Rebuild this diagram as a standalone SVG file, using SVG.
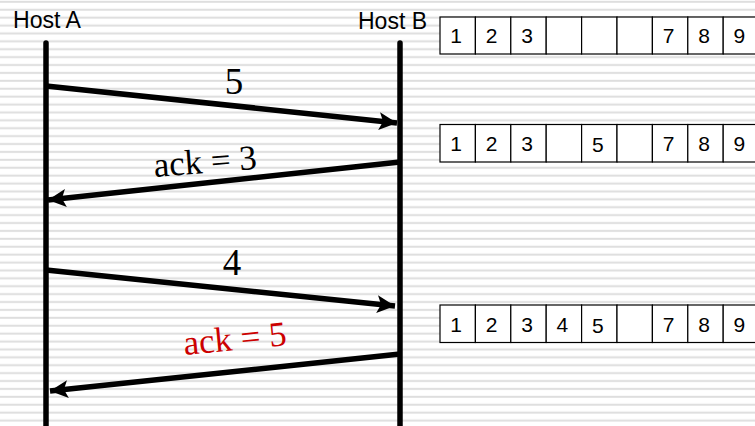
<svg xmlns="http://www.w3.org/2000/svg" width="755" height="426" viewBox="0 0 755 426">
  <defs>
    <!-- horizontal ruled background -->
    <pattern id="stripes" patternUnits="userSpaceOnUse" width="8" height="7.9">
      <rect x="0" y="0.8" width="8" height="2" fill="#dedede"/>
    </pattern>
    <marker id="head" markerUnits="userSpaceOnUse" markerWidth="20" markerHeight="20" refX="18" refY="9" orient="auto">
      <path d="M0,0 L18,9 L0,18 L4,9 Z" fill="#000"/>
    </marker>
  </defs>
  <style>
    .host { font-family: "Liberation Sans", Arial, sans-serif; font-size: 23px; fill: #000; }
    .life { stroke: #000; stroke-width: 5.5; stroke-linecap: round; fill: none; }
    .msg { stroke: #000; stroke-width: 5.5; fill: none; marker-end: url(#head); }
    .lbl { font-family: "Liberation Serif", "Times New Roman", serif; font-size: 35px; fill: #000; text-anchor: middle; }
    .big { font-size: 37px; }
    .red { fill: #cc0000; }
    .cell { fill: #fff; stroke: #000; stroke-width: 1.2; }
    .num { font-family: "Liberation Sans", Arial, sans-serif; font-size: 21px; fill: #000; text-anchor: middle; }
  </style>

  <rect width="755" height="426" fill="#fff"/>
  <rect width="755" height="426" fill="url(#stripes)"/>

  <!-- hosts and their timelines -->
  <g id="hostA">
    <text class="host" x="13" y="28" textLength="68" lengthAdjust="spacingAndGlyphs">Host A</text>
    <line class="life" x1="46" y1="43" x2="46" y2="432"/>
  </g>
  <g id="hostB">
    <text class="host" x="358" y="28.5" textLength="69" lengthAdjust="spacingAndGlyphs">Host B</text>
    <line class="life" x1="400" y1="43" x2="400" y2="432"/>
  </g>

  <!-- messages -->
  <g id="connectors">
    <line class="msg" x1="46" y1="86" x2="397" y2="123"/>
    <line class="msg" x1="400" y1="162" x2="48" y2="200"/>
    <line class="msg" x1="46" y1="270" x2="395" y2="306"/>
    <line class="msg" x1="400" y1="354" x2="50" y2="391"/>
  </g>

  <g id="labels">
    <text class="lbl big" x="234" y="94">5</text>
    <text class="lbl" x="206" y="173" transform="rotate(-4.5 206 173)">ack = 3</text>
    <text class="lbl big" x="232" y="275">4</text>
    <text class="lbl red" x="236" y="350" transform="rotate(-5.5 236 350)">ack = 5</text>
  </g>

  <!-- receiver buffer, first state -->
  <g id="buffer1">
    <rect class="cell" x="440" y="17" width="35.4" height="37"/>
    <rect class="cell" x="475.4" y="17" width="35.4" height="37"/>
    <rect class="cell" x="510.8" y="17" width="35.4" height="37"/>
    <rect class="cell" x="546.2" y="17" width="35.4" height="37"/>
    <rect class="cell" x="581.6" y="17" width="35.4" height="37"/>
    <rect class="cell" x="617" y="17" width="35.4" height="37"/>
    <rect class="cell" x="652.4" y="17" width="35.4" height="37"/>
    <rect class="cell" x="687.8" y="17" width="35.4" height="37"/>
    <rect class="cell" x="723.2" y="17" width="35.4" height="37"/>
    <text class="num" x="456.2" y="42.5">1</text>
    <text class="num" x="491.6" y="42.5">2</text>
    <text class="num" x="527" y="42.5">3</text>
    <text class="num" x="668.6" y="42.5">7</text>
    <text class="num" x="704" y="42.5">8</text>
    <text class="num" x="739.4" y="42.5">9</text>
  </g>

  <!-- receiver buffer, after segment 5 -->
  <g id="buffer2">
    <rect class="cell" x="440" y="124.5" width="35.4" height="37.5"/>
    <rect class="cell" x="475.4" y="124.5" width="35.4" height="37.5"/>
    <rect class="cell" x="510.8" y="124.5" width="35.4" height="37.5"/>
    <rect class="cell" x="546.2" y="124.5" width="35.4" height="37.5"/>
    <rect class="cell" x="581.6" y="124.5" width="35.4" height="37.5"/>
    <rect class="cell" x="617" y="124.5" width="35.4" height="37.5"/>
    <rect class="cell" x="652.4" y="124.5" width="35.4" height="37.5"/>
    <rect class="cell" x="687.8" y="124.5" width="35.4" height="37.5"/>
    <rect class="cell" x="723.2" y="124.5" width="35.4" height="37.5"/>
    <text class="num" x="456.2" y="150.5">1</text>
    <text class="num" x="491.6" y="150.5">2</text>
    <text class="num" x="527" y="150.5">3</text>
    <text class="num" x="597.8" y="151.5">5</text>
    <text class="num" x="668.6" y="150.5">7</text>
    <text class="num" x="704" y="150.5">8</text>
    <text class="num" x="739.4" y="150.5">9</text>
  </g>

  <!-- receiver buffer, after segment 4 -->
  <g id="buffer3">
    <rect class="cell" x="440" y="305" width="35.4" height="37.5"/>
    <rect class="cell" x="475.4" y="305" width="35.4" height="37.5"/>
    <rect class="cell" x="510.8" y="305" width="35.4" height="37.5"/>
    <rect class="cell" x="546.2" y="305" width="35.4" height="37.5"/>
    <rect class="cell" x="581.6" y="305" width="35.4" height="37.5"/>
    <rect class="cell" x="617" y="305" width="35.4" height="37.5"/>
    <rect class="cell" x="652.4" y="305" width="35.4" height="37.5"/>
    <rect class="cell" x="687.8" y="305" width="35.4" height="37.5"/>
    <rect class="cell" x="723.2" y="305" width="35.4" height="37.5"/>
    <text class="num" x="456.2" y="331.5">1</text>
    <text class="num" x="491.6" y="331.5">2</text>
    <text class="num" x="527" y="331.5">3</text>
    <text class="num" x="562.4" y="331.5">4</text>
    <text class="num" x="597.8" y="332.5">5</text>
    <text class="num" x="668.6" y="331.5">7</text>
    <text class="num" x="704" y="331.5">8</text>
    <text class="num" x="739.4" y="331.5">9</text>
  </g>
</svg>
